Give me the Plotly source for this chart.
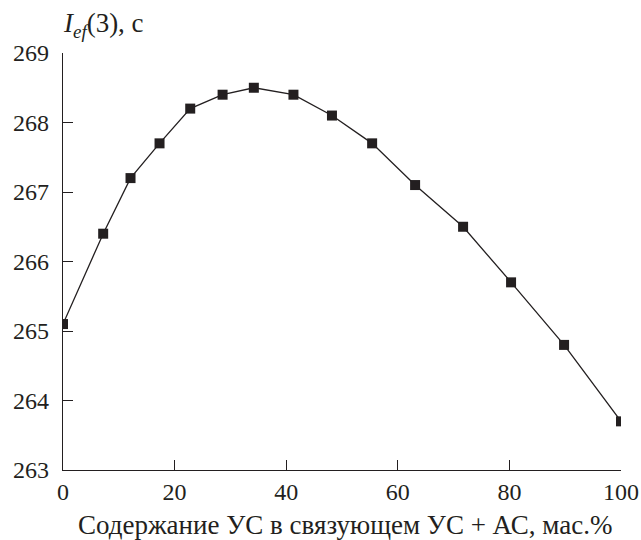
import plotly.graph_objects as go

# Binder composition (mass % of УС in УС + АС) and effective impulse I_ef(3), s
uc_content = [0, 7.2, 12.1, 17.3, 22.8, 28.6, 34.2, 41.3, 48.2, 55.4, 63.1, 71.7, 80.3, 89.8, 100]
impulse = [265.1, 266.4, 267.2, 267.7, 268.2, 268.4, 268.5, 268.4, 268.1, 267.7, 267.1, 266.5, 265.7, 264.8, 263.7]

x_ticks = [0, 20, 40, 60, 80, 100]
y_ticks = [263, 264, 265, 266, 267, 268, 269]

ink = "#231f20"
font_family = "Liberation Serif"

fig = go.Figure(
    go.Scatter(
        x=uc_content,
        y=impulse,
        mode="lines+markers",
        line=dict(color=ink, width=1.3),
        marker=dict(symbol="square", size=10, color=ink),
        cliponaxis=True,
        showlegend=False,
    )
)

axis_common = dict(
    showline=True,
    linecolor=ink,
    linewidth=1.3,
    ticks="inside",
    ticklen=10,
    tickwidth=1.3,
    tickcolor=ink,
    showgrid=False,
    zeroline=False,
    automargin=False,
    tickfont=dict(family=font_family, size=24, color=ink),
    mirror=False,
)

fig.update_xaxes(range=[0, 100], tickvals=x_ticks, ticklabelstandoff=0, **axis_common)
fig.update_yaxes(range=[263, 269], tickvals=y_ticks, ticklabelstandoff=8, **axis_common)

# y-axis label above the axis
fig.add_annotation(
    x=0, xref="x", xanchor="left", xshift=-2,
    y=1, yref="paper", yanchor="bottom", yshift=9,
    text="<i>I</i><sub><i>ef</i></sub>(3), с",
    showarrow=False,
    font=dict(family=font_family, size=27, color=ink),
)

# x-axis title
fig.add_annotation(
    x=0.5, xref="paper", xanchor="center", xshift=3,
    y=0, yref="paper", yanchor="top", yshift=-38,
    text="Содержание УС в связующем УС + АС, мас.%",
    showarrow=False,
    font=dict(family=font_family, size=27, color=ink),
)

fig.update_layout(
    width=641,
    height=540,
    margin=dict(l=63, r=20, t=53, b=70, autoexpand=False),
    paper_bgcolor="white",
    plot_bgcolor="white",
    font=dict(family=font_family, color=ink),
)

fig.write_html("out.html")
